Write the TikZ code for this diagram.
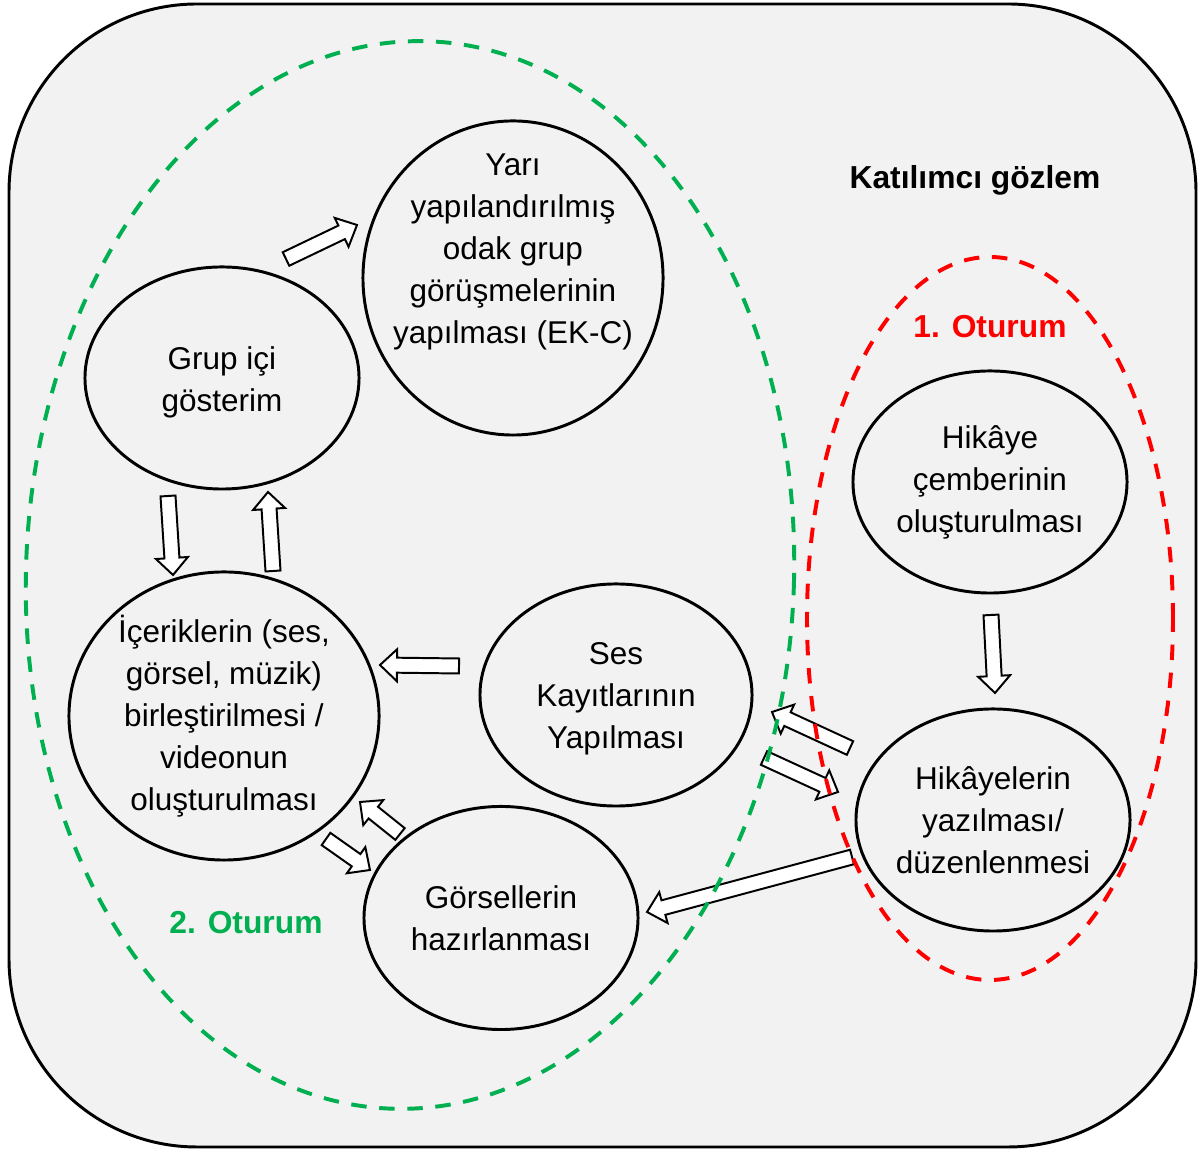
\documentclass[tikz,border=0pt]{standalone}
\usepackage{fontspec}
\setmainfont{Liberation Sans}
\usetikzlibrary{calc,shapes.geometric}
\definecolor{panel}{RGB}{242,242,242}
\definecolor{color1}{RGB}{0,176,80}
\definecolor{color2}{RGB}{255,0,0}

\tikzset{
	stage/.style = {draw, ellipse, line width=2.1pt, fill=panel, inner sep=-4cm, align=center, font=\fontsize{22.4}{29.9}\selectfont},
	tag/.style = {font=\bfseries\fontsize{22.6}{29.9}\selectfont},
	session/.style = {line width=2.8pt, dash pattern=on 11pt off 9pt},
	blockarrow/.style = {draw, fill=white, line width=1.4pt, line join=miter,
		to path={($(\tikztostart)!0.1875cm!90:(\tikztotarget)$)
			-- ($(\tikztotarget)!0.425cm!(\tikztostart)!0.1875cm!-90:(\tikztostart)$)
			-- ($(\tikztotarget)!0.425cm!(\tikztostart)!0.4cm!-90:(\tikztostart)$)
			-- (\tikztotarget)
			-- ($(\tikztotarget)!0.425cm!(\tikztostart)!0.4cm!90:(\tikztostart)$)
			-- ($(\tikztotarget)!0.425cm!(\tikztostart)!0.1875cm!90:(\tikztostart)$)
			-- ($(\tikztostart)!0.1875cm!-90:(\tikztotarget)$) -- cycle}}
}

\begin{document}
\begin{tikzpicture}[x=0.025cm, y=0.025cm]
	\useasboundingbox (0,0) rectangle (1203,1154);
	\draw[line width=2.1pt, fill=panel, rounded corners=4.7cm] (9,7) rectangle (1196,1150);

	\node[stage, minimum width=7.5cm, minimum height=7.85cm] (yari) at (513,876) {Yarı\\yapılandırılmış\\odak grup\\görüşmelerinin\\yapılması (EK-C)\\[0.1cm]\strut};
	\node[stage, minimum width=6.85cm, minimum height=5.55cm] (grup) at (222,776) {\rule{0pt}{22pt}Grup içi\\gösterim};
	\node[stage, minimum width=7.75cm, minimum height=7.2cm] (icerik) at (224,438) {İçeriklerin (ses,\\görsel, müzik)\\birleştirilmesi /\\videonun\\oluşturulması};
	\node[stage, minimum width=6.8cm, minimum height=5.55cm] (ses) at (616,459) {\rule{0pt}{20.5pt}Ses\\Kayıtlarının\\Yapılması};
	\node[stage, minimum width=6.85cm, minimum height=5.575cm] (gorsel) at (501,236) {Görsellerin\\hazırlanması};
	\node[stage, minimum width=6.85cm, minimum height=5.55cm] (hikaye) at (990,672) {Hikâye\\çemberinin\\oluşturulması};
	\node[stage, minimum width=6.85cm, minimum height=5.55cm] (yazim) at (993,334) {Hikâyelerin\\yazılması/\\düzenlenmesi};

	\coordinate (s1) at (286,895);  \coordinate (e1) at (357,929);
	\coordinate (s2) at (168,658);  \coordinate (e2) at (173,579);
	\coordinate (s3) at (273,583);  \coordinate (e3) at (268,662);
	\coordinate (s4) at (459,488);  \coordinate (e4) at (380,489);
	\coordinate (s5) at (400,320);  \coordinate (e5) at (360,352);
	\coordinate (s6) at (326,315);  \coordinate (e6) at (370,284);
	\coordinate (s7) at (991,539);  \coordinate (e7) at (995,461);
	\coordinate (s8) at (850,406);  \coordinate (e8) at (772,442);
	\coordinate (s9) at (764,396);  \coordinate (e9) at (838,362);
	\coordinate (s10) at (852,297); \coordinate (e10) at (647,242);

	\draw[blockarrow] (s1) to (e1);
	\draw[blockarrow] (s2) to (e2);
	\draw[blockarrow] (s3) to (e3);
	\draw[blockarrow] (s4) to (e4);
	\draw[blockarrow] (s5) to (e5);
	\draw[blockarrow] (s6) to (e6);
	\draw[blockarrow] (s7) to (e7);
	\draw[blockarrow] (s8) to (e8);
	\draw[blockarrow] (s9) to (e9);
	\draw[blockarrow] (s10) to (e10);

	\draw[session, color1, rotate around={-2:(410,579)}] (410,579) ellipse [x radius=384, y radius=534];
	\draw[session, color2] (990,535.5) ellipse [x radius=183, y radius=361.5];

	\node[tag] (gozlem) at (975,974) {Katılımcı gözlem};
	\node[tag, text=color2] (oturum1) at (990,827) {1. Oturum};
	\node[tag, text=color1] (oturum2) at (246,231.5) {2. Oturum};
\end{tikzpicture}
\end{document}
